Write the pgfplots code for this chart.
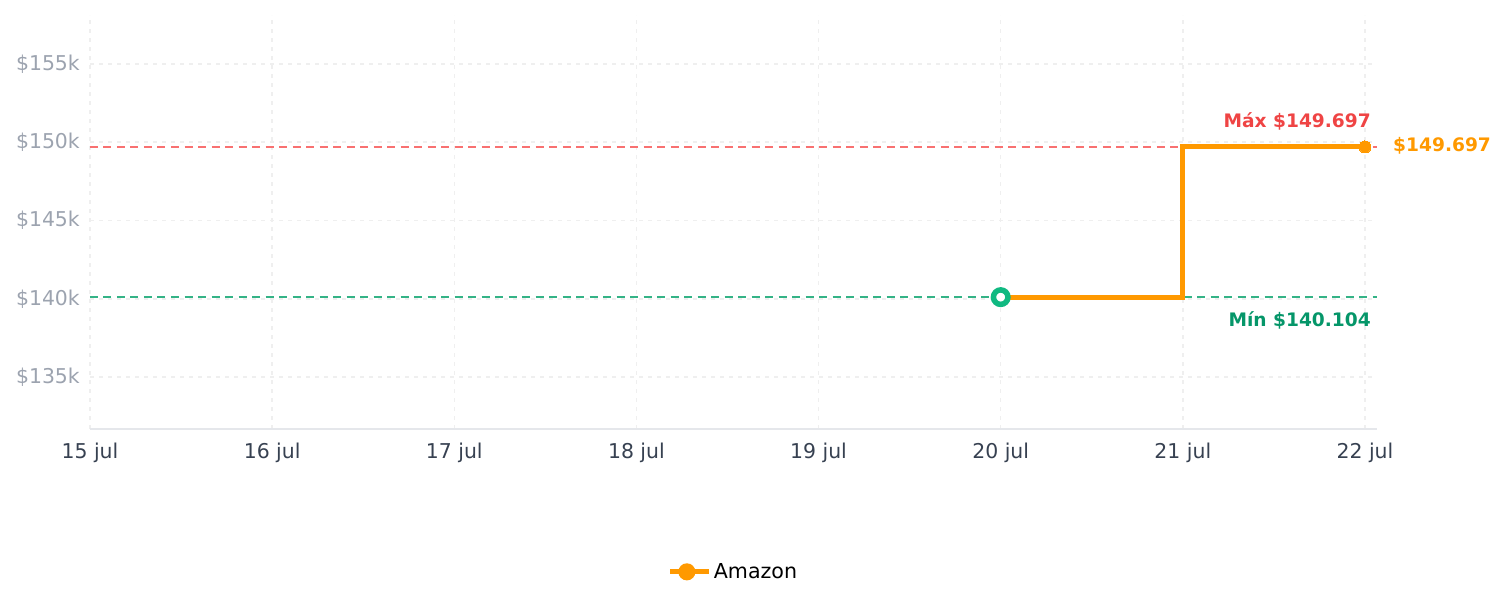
\documentclass[border=0pt]{standalone}
\usepackage{fontspec}
\setmainfont{DejaVu Sans}
\usepackage{pgfplots}
\pgfplotsset{compat=1.18}
\definecolor{amz}{HTML}{FF9900}
\definecolor{maxred}{HTML}{EF4444}
\definecolor{maxline}{HTML}{F87171}
\definecolor{minring}{HTML}{10B981}
\definecolor{mintxt}{HTML}{059669}
\definecolor{minline}{HTML}{34B386}
\definecolor{ytick}{HTML}{9CA3AF}
\definecolor{xtick}{HTML}{374151}
\definecolor{gridc}{HTML}{EFEFEF}
\definecolor{axc}{HTML}{E5E7EB}
\begin{document}
\begin{tikzpicture}
\useasboundingbox (-90pt,-178pt) rectangle (1415pt,429pt);
\begin{axis}[
  at={(0pt,0pt)}, anchor=south west,
  scale only axis, width=1287pt, height=414pt,
  xmin=15, xmax=22.066, ymin=131680, ymax=158130,
  scaled y ticks=false, scaled x ticks=false,
  xtick={15,16,17,18,19,20,21,22},
  xticklabels={15 jul,16 jul,17 jul,18 jul,19 jul,20 jul,21 jul,22 jul},
  ytick={135000,140000,145000,150000,155000},
  yticklabels={\$135k,\$140k,\$145k,\$150k,\$155k},
  major tick length=0pt,
  axis x line*=bottom, axis y line*=left,
  x axis line style={-, draw=axc, line width=1.5pt},
  y axis line style={draw=none},
  grid=major,
  major grid style={draw=gridc, line width=1.5pt, dash pattern=on 4pt off 5pt},
  xticklabel style={font=\fontsize{20.4}{24}\selectfont, text=xtick, inner sep=0pt, anchor=north, yshift=-14pt},
  yticklabel style={font=\fontsize{20.4}{24}\selectfont, text=ytick, inner sep=0pt, anchor=east, xshift=-10pt},
  clip=false,
  legend style={draw=none, fill=none, at={(0.5,-0.345)}, anchor=center,
    font=\fontsize{20.6}{24}\selectfont, legend cell align=left},
  legend image code/.code={\path (0pt,0pt) -- (39pt,0pt); \draw[line width=4pt, amz] (0pt,0pt)--(33pt,0pt); \fill[amz] (16.5pt,0pt) circle (6pt);},
]
\addplot[maxline, line width=2pt, dash pattern=on 8pt off 5.5pt, forget plot] coordinates {(15,149697) (22.066,149697)};
\addplot[minline, line width=2pt, dash pattern=on 8pt off 5.5pt, forget plot] coordinates {(15,140104) (22.066,140104)};
\addplot[amz, line width=5pt, line join=miter] coordinates {(20,140104) (21,140104) (21,149697) (22,149697)};
\addlegendentry{Amazon}
\addplot[amz, only marks, mark=*, mark size=6pt, mark options={fill=amz, draw=amz, line width=0pt}, forget plot] coordinates {(22,149697)};
\addplot[minring, only marks, mark=*, mark size=7.25pt, mark options={fill=white, draw=minring, line width=5.5pt}, forget plot] coordinates {(20,140104)};
\node[anchor=base east, text=maxred, inner sep=0pt, font=\bfseries\fontsize{18.6}{22}\selectfont] at (axis cs:22.033,150913) {Máx \$149.697};
\node[anchor=base east, text=mintxt, inner sep=0pt, font=\bfseries\fontsize{18.6}{22}\selectfont] at (axis cs:22.033,138198) {Mín \$140.104};
\node[anchor=base west, text=amz, inner sep=0pt, font=\bfseries\fontsize{18.6}{22}\selectfont] at (axis cs:22.154,149399) {\$149.697};
\end{axis}
\end{tikzpicture}
\end{document}
